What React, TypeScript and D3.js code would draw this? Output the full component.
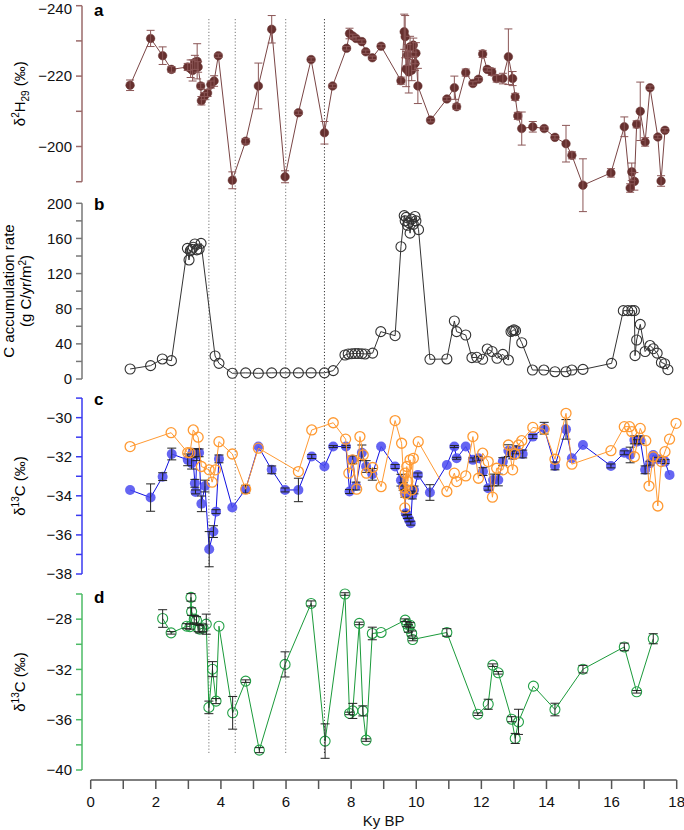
import React from "react";
import * as d3 from "d3";

// ---------- DATA ----------
// Panel a: δ2H29 (age ky BP, value ‰, error)
const aAge = [1.21,1.84,2.21,2.48,2.98,3.07,3.13,3.2,3.27,3.3,3.38,3.4,3.49,3.59,3.69,3.79,3.92,4.35,4.76,5.15,5.56,5.97,6.38,6.77,7.18,7.43,7.86,7.95,8.05,8.15,8.33,8.45,8.65,8.92,9.53,9.63,9.66,9.69,9.73,9.77,9.81,9.86,9.91,9.96,9.99,10.05,10.44,10.94,11.17,11.24,11.52,11.74,11.91,12.04,12.18,12.32,12.47,12.66,12.83,12.96,13.04,13.12,13.24,13.58,13.93,14.26,14.6,14.78,15.12,15.98,16.39,16.57,16.62,16.7,16.77,16.88,17.03,17.18,17.42,17.52,17.64];
const aVal = [-217.4,-230.7,-225.8,-221.9,-222.6,-222.1,-221.6,-223.9,-224.2,-222.6,-217.2,-213.0,-214.3,-215.2,-217.6,-218.6,-225.8,-190.4,-201.5,-217.2,-233.3,-191.4,-209.6,-224.7,-203.9,-217.2,-227.9,-232.1,-231.4,-230.7,-229.8,-226.9,-225.2,-228.5,-218.7,-232.6,-231.2,-222.0,-226.0,-221.2,-228.3,-221.7,-228.8,-223.6,-226.5,-217.2,-207.5,-213.5,-216.7,-211.3,-221.0,-217.9,-219.1,-226.3,-221.9,-221.2,-219.3,-219.3,-225.5,-219.3,-214.1,-208.7,-205.1,-205.6,-205.1,-202.6,-200.8,-197.5,-189.0,-192.5,-205.6,-188.2,-192.8,-190.1,-206.3,-210.0,-201.3,-216.7,-202.7,-190.2,-204.6];
const aErr = [1.5,2.3,2.5,0.8,1,2.5,3,2,5,1.5,0.8,1.2,1,1,1,1.5,0.5,2.4,0.8,6.5,3.9,1.7,0.5,0.5,3.2,0.5,0.5,1.5,0.5,0.5,0.5,0.5,0.5,0.5,1,5,6,5,3,6,3,3,2,2,3,5,0.5,0.5,3.3,0.8,1,0.5,0.5,1,0.5,1,1,1.5,7.9,2,1,1,4.7,1.5,0.5,0.5,5.2,1,7.5,1.2,2.8,1.2,2.5,2.5,1,8.3,1.2,0.5,0.5,1.5,0.5];

// Panel b: C accumulation rate (g C/yr/m2)
const bAge = [1.21,1.84,2.2,2.48,2.97,3.02,3.06,3.1,3.15,3.2,3.26,3.33,3.39,3.82,3.94,4.35,4.76,5.15,5.56,5.97,6.38,6.77,7.18,7.45,7.81,7.91,8.02,8.12,8.22,8.33,8.43,8.66,8.91,9.35,9.53,9.63,9.66,9.69,9.73,9.77,9.81,9.86,9.91,9.96,9.99,10.07,10.42,10.94,11.17,11.24,11.52,11.71,11.86,12.04,12.18,12.33,12.48,12.66,12.83,12.91,12.96,13.0,13.05,13.24,13.57,13.92,14.26,14.6,14.78,15.12,16.0,16.36,16.5,16.62,16.7,16.72,16.77,16.88,17.03,17.18,17.28,17.4,17.53,17.63,17.73];
const bVal = [11.4,15.2,22.8,20.9,148.7,135.5,146,147.6,150,153.7,147,148,154.4,26.2,17.8,6.5,7,6.5,7,7,7,7,7,9.5,27.3,28.5,28.8,29,29,28.8,28.5,29.5,53.9,49.3,150.6,186,180,184,175,178,166,182,176,185,180,170,22.4,22.8,66,53.9,50.1,24.3,24.7,22.4,34.1,31.3,23.6,28,21.6,54,55,56,55,41.3,10.2,10.2,8.3,8.3,10.2,10.9,17.8,77.8,77.8,77.8,77.8,26.6,44.4,62.2,31.3,38.1,34.5,29.4,18.9,17.4,10.6];

// Panel c: δ13C blue (filled) with error, orange (open)
const cBlueAge = [1.21,1.84,2.21,2.49,2.98,3.1,3.13,3.2,3.22,3.26,3.33,3.4,3.51,3.64,3.77,3.85,3.94,4.35,4.76,5.15,5.56,5.97,6.38,6.79,7.18,7.45,7.84,7.95,8.05,8.15,8.33,8.46,8.65,8.92,9.35,9.53,9.6,9.65,9.68,9.73,9.78,9.83,9.88,9.93,10.05,10.42,10.94,11.17,11.24,11.52,11.74,11.91,12.05,12.21,12.36,12.52,12.66,12.83,12.96,13.07,13.27,13.58,13.93,14.26,14.6,14.78,15.12,15.98,16.39,16.57,16.7,16.77,16.88,17.03,17.18,17.28,17.42,17.64,17.78];
const cBlueVal = [-33.7,-34.09,-33.02,-31.86,-32.16,-32.33,-31.8,-33.36,-33.8,-31.9,-31.8,-34.41,-33.5,-36.73,-35.83,-34.81,-32.11,-34.6,-33.66,-31.48,-32.67,-33.7,-33.7,-31.99,-32.5,-31.48,-31.48,-33.78,-32.16,-33.5,-31.8,-32.5,-32.9,-31.48,-32.5,-33.2,-33.53,-33.87,-34.89,-35.06,-35.23,-35.4,-33.96,-33.7,-32.93,-33.83,-32.42,-31.48,-32.08,-31.48,-32.16,-32.08,-32.76,-33.61,-33.19,-33.19,-32.25,-31.69,-31.91,-31.65,-31.86,-30.97,-30.54,-32.47,-30.6,-32.08,-31.4,-32.47,-31.8,-31.91,-31.14,-31.23,-31.14,-32.67,-32.33,-31.91,-32.13,-32.25,-32.93];
const cBlueErr = [0,0.7,0.2,0.3,0.3,0.3,0.2,0.2,0.1,0.3,0.2,0.4,0.3,0.9,0.3,0.1,0.2,0,0.2,0,0.2,0.1,0.6,0.1,0,0.05,0.05,0.1,0.2,0.2,0.4,0.3,0.3,0,0.1,0.3,0.2,0.2,0.1,0.1,0.1,0.1,0.2,0.2,0.1,0.4,0,0.05,0.05,0,0.1,0.1,0.2,0.1,0.3,0.3,0.2,0.3,0.2,0.2,0.2,0.1,0.3,0.2,0.5,0,0,0.1,0.1,0.4,0.2,0.1,0.2,0.2,0.1,0,0.1,0.1,0];
const cOrangeAge = [1.21,2.47,2.98,3.05,3.15,3.3,3.4,3.64,3.73,3.83,3.94,4.35,4.76,5.15,6.38,6.79,7.45,7.83,7.93,8.04,8.17,8.27,8.37,8.47,8.66,8.92,9.35,9.55,9.63,9.65,9.66,9.68,9.71,9.74,9.81,9.86,9.91,10.06,10.94,11.17,11.24,11.52,11.74,11.91,12.04,12.21,12.34,12.47,12.66,12.83,12.96,13.03,13.14,13.24,13.58,13.93,14.26,14.6,14.78,15.98,16.39,16.55,16.62,16.7,16.88,17.05,17.15,17.28,17.42,17.53,17.64,17.78,17.98];
const cOrangeVal = [-31.48,-30.77,-31.79,-31.8,-30.63,-31.0,-32.5,-32.67,-33.3,-32.67,-31.23,-31.86,-33.66,-31.56,-32.76,-30.63,-30.26,-31.1,-32.84,-32.16,-33.66,-30.97,-31.91,-32.84,-32.55,-33.53,-30.15,-31.31,-33.6,-34.62,-32.84,-33.9,-32.5,-33.27,-32.16,-33.7,-32.08,-31.23,-33.78,-32.84,-33.27,-32.98,-30.97,-33.1,-31.82,-32.25,-34.07,-32.59,-32.67,-31.4,-32.67,-31.86,-31.4,-31.18,-30.5,-30.6,-32.13,-29.78,-32.38,-31.69,-30.46,-30.46,-30.72,-32.0,-30.55,-31.18,-33.5,-32.0,-34.52,-32.25,-31.74,-31.1,-30.29];

// Panel d: δ13C green (open) with error
const dAge = [2.21,2.47,2.95,3.05,3.08,3.1,3.18,3.25,3.3,3.35,3.45,3.55,3.63,3.74,3.85,3.94,4.36,4.76,5.18,5.97,6.77,7.2,7.81,7.95,8.05,8.25,8.36,8.46,8.65,8.92,9.66,9.71,9.76,9.81,9.86,9.89,10.94,11.89,12.21,12.35,12.52,12.93,13.04,13.14,13.6,14.26,15.12,16.39,16.77,17.28];
const dVal = [-27.95,-29.09,-28.56,-28.6,-26.27,-27.4,-28.0,-28.1,-28.7,-28.8,-28.7,-28.4,-35.02,-31.98,-34.52,-28.56,-35.45,-32.93,-38.42,-31.6,-26.75,-37.7,-26.0,-35.5,-35.3,-28.34,-35.3,-37.62,-29.14,-29.06,-28.08,-28.4,-28.74,-28.48,-29.14,-29.62,-29.06,-35.56,-34.77,-31.66,-32.27,-35.96,-37.49,-36.17,-33.33,-35.19,-31.98,-30.21,-33.78,-29.56];
const dErr = [0.7,0.1,0.2,0.2,0.3,0.3,0.3,0.3,0.3,0.3,0.3,0.8,0.5,0.6,0.2,0,1.3,0.1,0.2,1.0,0.2,1.37,0.1,0.1,0.6,0.1,0.4,0.1,0.5,0,0.1,0.2,0.3,0.2,0.2,0.1,0.3,0.1,0.4,0.1,0.1,0.2,0.4,1.0,0,0.5,0.3,0.3,0.1,0.4];

// Vertical event lines (ky BP)
const eventLines = [3.63, 4.44, 5.99, 7.18];

const xTicks = [0, 2, 4, 6, 8, 10, 12, 14, 16, 18];
const xMinorTicks = d3.range(0, 19, 1);
const aTicks = [-240, -220, -200];
const aMinor = [-230, -210, -190];
const bTicks = [0, 40, 80, 120, 160, 200];
const bMinor = [20, 60, 100, 140, 180];
const cTicks = [-30, -32, -34, -36, -38];
const cMinor = [-29, -31, -33, -35, -37];
const dTicks = [-28, -32, -36, -40];
const dMinor = [-26, -30, -34, -38];

// ---------- LAYOUT ----------
const W = 684, H = 830;
const FONT = "'Liberation Sans', Arial, Helvetica, sans-serif";
const x = d3.scaleLinear().domain([0, 18]).range([90.7, 676.7]);
const yA = d3.scaleLinear().domain([-240, -190]).range([5.7, 181.7]);
const yB = d3.scaleLinear().domain([0, 200]).range([379, 203.3]);
const yC = d3.scaleLinear().domain([-29, -38]).range([398.1, 574]);
const yD = d3.scaleLinear().domain([-26, -40]).range([594, 770]);
const AX = 82;
const FS = 15;

const fmt = (v: number) => (v < 0 ? "\u2212" + Math.abs(v) : String(v));

function YAxis({ scale, major, minor, color }: any) {
  const dom = scale.domain();
  return (
    <g>
      <line x1={AX} x2={AX} y1={scale(dom[0])} y2={scale(dom[1])} stroke={color} strokeWidth={1.5} />
      {[...major, ...minor].map((t: number) => (
        <line key={"t" + t} x1={AX - 6} x2={AX} y1={scale(t)} y2={scale(t)} stroke={color} strokeWidth={1.5} />
      ))}
      {major.map((t: number) => (
        <text key={"l" + t} x={AX - 10} y={Math.max(scale(t), 9)} dy="0.35em" textAnchor="end" fontSize={FS} fill="#111">
          {fmt(t)}
        </text>
      ))}
    </g>
  );
}

function ErrBars({ ages, vals, errs, scale, color, cap = 4, w = 1 }: any) {
  return (
    <g stroke={color} strokeWidth={w}>
      {ages.map((a: number, i: number) => {
        const e = errs[i];
        if (!e) return null;
        const cx = x(a);
        const y1 = scale(vals[i] - e);
        const y2 = scale(vals[i] + e);
        return (
          <g key={i}>
            <line x1={cx} x2={cx} y1={y1} y2={y2} />
            <line x1={cx - cap} x2={cx + cap} y1={y1} y2={y1} />
            <line x1={cx - cap} x2={cx + cap} y1={y2} y2={y2} />
          </g>
        );
      })}
    </g>
  );
}

function Series({ ages, vals, scale, lineColor, fill, stroke, r, lw = 1, sw = 1.2, opacity = 1 }: any) {
  const pts: [number, number][] = ages.map((a: number, i: number) => [a, vals[i]]);
  const line = d3.line<[number, number]>().x((d) => x(d[0])).y((d) => scale(d[1]));
  return (
    <g>
      <path d={line(pts) || ""} fill="none" stroke={lineColor} strokeWidth={lw} />
      {pts.map((p, i) => (
        <circle key={i} cx={x(p[0])} cy={scale(p[1])} r={r} fill={fill} stroke={stroke} strokeWidth={sw} fillOpacity={opacity} />
      ))}
    </g>
  );
}

export default function App() {
  const aColor = "#66302f";
  return (
    <svg width={W} height={H} style={{ position: "absolute", left: 0, top: 0, background: "#fff" }} fontFamily={FONT}>
      {/* event lines */}
      {eventLines.map((e, i) => (
        <line key={i} x1={x(e)} x2={x(e)} y1={19} y2={753} stroke={i === 3 ? "#333" : "#777"} strokeWidth={1} strokeDasharray="1.2,2" />
      ))}

      {/* Panel a */}
      <YAxis scale={yA} major={aTicks} minor={aMinor} color="#9a6a6a" />
      <text x={94} y={16} fontSize={17} fontWeight="bold">a</text>
      <text transform={`translate(25,${(5.7 + 181.7) / 2}) rotate(-90)`} textAnchor="middle" fontSize={FS}>
        δ<tspan dy={-6} fontSize={10}>2</tspan><tspan dy={6}>H</tspan><tspan dy={4} fontSize={10}>29</tspan><tspan dy={-4}> (‰)</tspan>
      </text>
      <Series ages={aAge} vals={aVal} scale={yA} lineColor="#7a4545" fill={aColor} stroke={aColor} r={4.3} sw={0.5} />
      <ErrBars ages={aAge} vals={aVal} errs={aErr} scale={yA} color="#8b5656" />

      {/* Panel b */}
      <YAxis scale={yB} major={bTicks} minor={bMinor} color="#777" />
      <text x={94} y={210} fontSize={17} fontWeight="bold">b</text>
      <text transform={`translate(14,291) rotate(-90)`} textAnchor="middle" fontSize={FS}>C accumulation rate</text>
      <text transform={`translate(31,291) rotate(-90)`} textAnchor="middle" fontSize={FS}>
        (g C/yr/m<tspan dy={-5} fontSize={10}>2</tspan><tspan dy={5}>)</tspan>
      </text>
      <Series ages={bAge} vals={bVal} scale={yB} lineColor="#333" fill="none" stroke="#333" r={5} sw={1.1} />

      {/* Panel c */}
      <YAxis scale={yC} major={cTicks} minor={cMinor} color="#3a3af0" />
      <text x={94} y={405} fontSize={17} fontWeight="bold">c</text>
      <text transform={`translate(25,486) rotate(-90)`} textAnchor="middle" fontSize={FS}>
        δ<tspan dy={-6} fontSize={10}>13</tspan><tspan dy={6}>C (‰)</tspan>
      </text>
      <Series ages={cBlueAge} vals={cBlueVal} scale={yC} lineColor="#1010e0" fill="#4a4af0" stroke="none" r={5} sw={0} opacity={0.85} />
      <ErrBars ages={cBlueAge} vals={cBlueVal} errs={cBlueErr} scale={yC} color="#222" cap={4.5} />
      <Series ages={cOrangeAge} vals={cOrangeVal} scale={yC} lineColor="#ff9a33" fill="none" stroke="#ff9a33" r={5} sw={1.3} />

      {/* Panel d */}
      <YAxis scale={yD} major={dTicks} minor={dMinor} color="#4cbb66" />
      <text x={94} y={603} fontSize={17} fontWeight="bold">d</text>
      <text transform={`translate(25,682) rotate(-90)`} textAnchor="middle" fontSize={FS}>
        δ<tspan dy={-6} fontSize={10}>13</tspan><tspan dy={6}>C (‰)</tspan>
      </text>
      <Series ages={dAge} vals={dVal} scale={yD} lineColor="#1a9a3a" fill="none" stroke="#22a046" r={5} sw={1.1} />
      <ErrBars ages={dAge} vals={dVal} errs={dErr} scale={yD} color="#222" cap={4.5} />

      {/* X axis */}
      <g>
        <line x1={x(0)} x2={x(18)} y1={780} y2={780} stroke="#555" strokeWidth={1.5} />
        {xMinorTicks.map((t) => (
          <line key={t} x1={x(t)} x2={x(t)} y1={780} y2={789} stroke="#555" strokeWidth={1.5} />
        ))}
        {xTicks.map((t) => (
          <text key={t} x={x(t)} y={807} textAnchor="middle" fontSize={FS} fill="#111">{t}</text>
        ))}
        <text x={x(9)} y={826} textAnchor="middle" fontSize={FS} fill="#111">Ky BP</text>
      </g>
    </svg>
  );
}
